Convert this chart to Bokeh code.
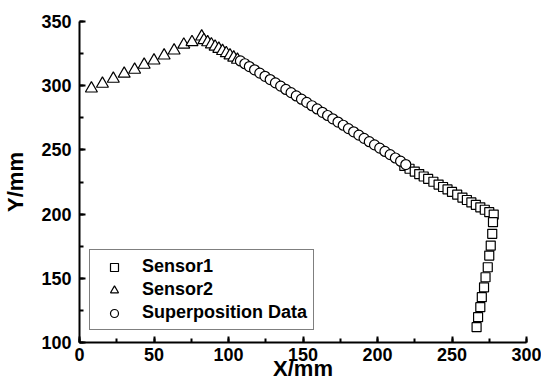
from bokeh.plotting import figure
from bokeh.models import Range1d, Legend, LegendItem, SingleIntervalTicker
from bokeh.embed import file_html
from bokeh.resources import INLINE

# Sensor1 (squares)
s1_x = [218, 221.5, 225, 228, 231, 234, 237.5, 241, 244, 247, 250, 253.5, 257, 260,
        263, 266, 269, 272, 275, 278,
        277.5, 277, 276, 275, 274, 272.5, 271.5, 270, 269, 267.5, 266.5]
s1_y = [237.5, 235.3, 233.1, 231.2, 229.3, 227.4, 225.2, 223.0, 221.1, 219.2, 217.3,
        215.1, 212.9, 211.0, 209.1, 207.2, 205.3, 203.4, 201.5, 199.6,
        193.7, 184.6, 175.5, 167.7, 158.6, 150.8, 143.0, 135.3, 127.5, 119.7, 111.9]

# Sensor2 (triangles)
s2_x = [8, 15.4, 22.7, 30, 37, 43.4, 50, 56.8, 63.5, 70, 75.5, 82,
        83.5, 86, 88.5, 91, 93.5, 96, 98.5, 101, 103.5, 106]
s2_y = [297.8, 301.5, 305.4, 309.3, 312.4, 316.3, 319.6, 323.5, 327.4, 332.0, 333.9, 338.3,
        335.5, 333.8, 332.1, 330.4, 328.7, 327.0, 325.3, 323.6, 321.9, 320.2]

# Superposition Data (circles)
sp_x = [108, 111, 114, 117.5, 121, 124.5, 128, 131.5, 135, 138.5, 142, 145.5, 149,
        152.5, 156, 159.5, 163, 166.5, 170, 173.5, 177, 180.5, 184, 187.5, 191,
        194.5, 198, 201.5, 205, 208.5, 212, 215.5, 219]
sp_y = [319.3, 317.1, 314.9, 312.4, 309.8, 307.3, 304.8, 302.2, 299.7, 297.1, 294.6,
        292.0, 289.5, 287.0, 284.4, 281.9, 279.3, 276.8, 274.2, 271.7, 269.2, 266.6,
        264.1, 261.5, 259.0, 256.4, 253.9, 251.4, 248.8, 246.3, 243.7, 241.2, 238.6]

labels = ["Sensor1", "Sensor2", "Superposition Data"]

FONT = "Liberation Sans"

p = figure(width=541, height=384, output_backend="svg", toolbar_location=None,
           x_range=Range1d(0, 300), y_range=Range1d(100, 350),
           min_border_left=77, min_border_right=15, min_border_top=21, min_border_bottom=42)
p.outline_line_color = None
p.xgrid.visible = False
p.ygrid.visible = False

r1 = p.scatter(s1_x, s1_y, marker="square", size=9, fill_color="white",
               line_color="black", line_width=1.2)
r2 = p.scatter(s2_x, s2_y, marker="triangle", size=12, fill_color="white",
               line_color="black", line_width=1.2)
r3 = p.scatter(sp_x, sp_y, marker="circle", size=10, fill_color="white",
               line_color="black", line_width=1.2)

for ax, lab in ((p.xaxis[0], "X/mm"), (p.yaxis[0], "Y/mm")):
    ax.axis_label = lab
    ax.axis_label_text_font = FONT
    ax.axis_label_text_font_style = "bold"
    ax.axis_label_text_font_size = "22px"
    ax.axis_label_text_color = "black"
    ax.major_label_text_font = FONT
    ax.major_label_text_font_style = "bold"
    ax.major_label_text_font_size = "18px"
    ax.major_label_text_color = "black"
    ax.axis_line_width = 2
    ax.axis_line_color = "black"
    ax.major_tick_in = 6
    ax.major_tick_out = 0
    ax.minor_tick_in = 4
    ax.minor_tick_out = 0
    ax.major_tick_line_width = 2
    ax.minor_tick_line_width = 2

p.xaxis[0].major_label_standoff = 5
p.xaxis[0].axis_label_standoff = -8
p.yaxis[0].major_label_standoff = 8
p.yaxis[0].axis_label_standoff = 10

p.xaxis[0].ticker = SingleIntervalTicker(interval=50, num_minor_ticks=2)
p.yaxis[0].ticker = SingleIntervalTicker(interval=50, num_minor_ticks=2)

legend = Legend(items=[LegendItem(label=labels[0], renderers=[r1]),
                       LegendItem(label=labels[1], renderers=[r2]),
                       LegendItem(label=labels[2], renderers=[r3])],
                location=(10, 12))
legend.label_text_font = FONT
legend.label_text_font_style = "bold"
legend.label_text_font_size = "18px"
legend.label_text_color = "black"
legend.border_line_color = "black"
legend.border_line_width = 1
legend.padding = 6
legend.spacing = 2
legend.margin = 0
legend.glyph_width = 36
legend.glyph_height = 20
legend.label_height = 20
legend.label_standoff = 10
legend.background_fill_alpha = 1
p.add_layout(legend, "center")

open("out.html", "w").write(file_html(p, INLINE))
